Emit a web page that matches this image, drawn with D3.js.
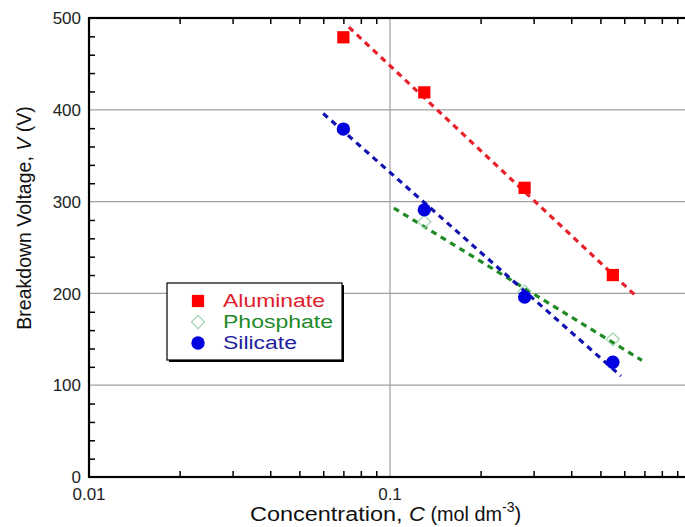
<!DOCTYPE html>
<html><head><meta charset="utf-8">
<script src="https://cdn.jsdelivr.net/npm/d3@7"></script>
<style>body{margin:0;background:#fff}svg{display:block;font-family:Arial,"Liberation Sans",sans-serif}</style>
</head><body><svg id="c" width="685" height="527"></svg>
<script>
const seriesNames = ["Aluminate","Phosphate","Silicate"];
const aluminateC = [0.07, 0.13, 0.28, 0.55];
const aluminateV = [479, 419, 315, 220];
const phosphateC = [0.13, 0.28, 0.55];
const phosphateV = [278, 202, 150];
const silicateC = [0.07, 0.13, 0.28, 0.55];
const silicateV = [379, 291, 196, 125];
// dashed fit line endpoints [C, V]
const aluminateFit = [[0.073, 490], [0.662, 196]];
const phosphateFit = [[0.103, 293], [0.687, 127]];
const silicateFit = [[0.060, 396], [0.585, 110]];
const yTicks = [0, 100, 200, 300, 400, 500];
const xTickLabels = ["0.01", "0.1"];

const svg = d3.select("#c");
const L = 89, T = 18, R = 691, B = 477;
const x = d3.scaleLog().domain([0.01, 1]).range([L, R]);
const y = d3.scaleLinear().domain([0, 500]).range([B, T]);

// gridlines
const grid = svg.append("g").attr("stroke", "#a0a0a0").attr("stroke-width", 1.2);
[100,200,300,400].forEach(v => grid.append("line").attr("x1", L).attr("x2", R).attr("y1", y(v)).attr("y2", y(v)));
grid.append("line").attr("x1", x(0.1)).attr("x2", x(0.1)).attr("y1", T).attr("y2", B);

// axes with inward ticks
const yMinor = d3.range(0, 501, 20).filter(v => v % 100 !== 0);
const xMinor = [];
[0.01, 0.1].forEach(d => { for (let k = 2; k <= 9; k++) xMinor.push(d * k); });

const axL = svg.append("g").attr("transform", `translate(${L},0)`)
  .call(d3.axisLeft(y).tickValues(yMinor).tickSize(-6).tickFormat(""));
const axR = svg.append("g").attr("transform", `translate(${R},0)`)
  .call(d3.axisRight(y).tickValues(yMinor).tickSize(-6).tickFormat(""));
const axB = svg.append("g").attr("transform", `translate(0,${B})`)
  .call(d3.axisBottom(x).tickValues(xMinor).tickSize(-6).tickFormat(""));
const axT = svg.append("g").attr("transform", `translate(0,${T})`)
  .call(d3.axisTop(x).tickValues(xMinor).tickSize(-6).tickFormat(""));
[axL, axR, axB, axT].forEach(a => {
  a.select(".domain").remove();
  a.selectAll(".tick line").attr("stroke", "#000").attr("stroke-width", 1.5);
});
svg.append("rect").attr("x", L).attr("y", T).attr("width", R - L).attr("height", B - T)
  .attr("fill", "none").attr("stroke", "#000").attr("stroke-width", 2.2);

// tick labels
svg.append("g").selectAll("text").data(yTicks).join("text")
  .attr("x", L - 8).attr("y", d => y(d)).attr("dy", "0.36em")
  .attr("text-anchor", "end").attr("font-size", 17).attr("fill", "#222").text(d => d);
svg.append("g").selectAll("text").data(xTickLabels).join("text")
  .attr("x", d => x(+d)).attr("y", B + 23)
  .attr("text-anchor", "middle").attr("font-size", 17).attr("fill", "#222").text(d => d);

// axis titles
const yt = svg.append("text").attr("transform", `translate(31,218) rotate(-90)`)
  .attr("text-anchor", "middle").attr("font-size", 19.5).attr("fill", "#111");
yt.append("tspan").text("Breakdown Voltage, ");
yt.append("tspan").attr("font-style", "italic").text("V");
yt.append("tspan").text(" (V)");
const xt = svg.append("text").attr("x", 250).attr("y", 521)
  .attr("font-size", 20).attr("fill", "#111");
xt.append("tspan").attr("textLength", 159).attr("lengthAdjust", "spacingAndGlyphs").text("Concentration, ");
xt.append("tspan").attr("font-style", "italic").attr("textLength", 16).attr("lengthAdjust", "spacingAndGlyphs").text("C");
xt.append("tspan").attr("textLength", 77).attr("lengthAdjust", "spacingAndGlyphs").text(" (mol dm");
xt.append("tspan").attr("font-size", 14).attr("dy", -9).text("-3");
xt.append("tspan").attr("dy", 9).text(")");

// fit lines
const line = d3.line().x(d => x(d[0])).y(d => y(d[1]));
const fits = [[aluminateFit, "#e8202a"], [phosphateFit, "#1f8a24"], [silicateFit, "#1212b0"]];
fits.forEach(([f, c]) => svg.append("path").attr("d", line(f)).attr("fill", "none")
  .attr("stroke", c).attr("stroke-width", 3.2).attr("stroke-dasharray", "6,5"));

// markers
const sq = d3.symbol().type(d3.symbolSquare).size(150);
const ci = d3.symbol().type(d3.symbolCircle).size(140);
const di = d3.symbol().type(d3.symbolDiamond2).size(110);
svg.append("g").selectAll("path").data(aluminateC.map((c, i) => [c, aluminateV[i]])).join("path")
  .attr("d", sq).attr("transform", d => `translate(${x(d[0])},${y(d[1])})`).attr("fill", "#ff0000");
svg.append("g").selectAll("path").data(phosphateC.map((c, i) => [c, phosphateV[i]])).join("path")
  .attr("d", di).attr("transform", d => `translate(${x(d[0])},${y(d[1])})`)
  .attr("fill", "none").attr("stroke", "#9fd4b4").attr("stroke-width", 1.2);
svg.append("g").selectAll("path").data(silicateC.map((c, i) => [c, silicateV[i]])).join("path")
  .attr("d", ci).attr("transform", d => `translate(${x(d[0])},${y(d[1])})`).attr("fill", "#0000e0");

// legend
const lg = svg.append("g");
lg.append("rect").attr("x", 169).attr("y", 285).attr("width", 175).attr("height", 77).attr("fill", "#000");
lg.append("rect").attr("x", 167).attr("y", 283).attr("width", 175).attr("height", 77)
  .attr("fill", "#fff").attr("stroke", "#000").attr("stroke-width", 1.2);
const legColors = ["#e0202c", "#238a2a", "#1f1fa0"];
const legSyms = [sq, di, ci];
const legLen = [102, 110, 74];
seriesNames.forEach((n, i) => {
  const yy = 301 + i * 21;
  const m = lg.append("path").attr("d", legSyms[i]).attr("transform", `translate(198,${yy})`);
  if (i === 1) m.attr("fill", "none").attr("stroke", "#9fd4b4").attr("stroke-width", 1.2);
  else m.attr("fill", i === 0 ? "#ff0000" : "#0000e0");
  lg.append("text").attr("x", 223).attr("y", yy).attr("dy", "0.36em").attr("font-size", 18)
    .attr("textLength", legLen[i]).attr("lengthAdjust", "spacingAndGlyphs")
    .attr("fill", legColors[i]).text(n);
});
</script></body></html>
